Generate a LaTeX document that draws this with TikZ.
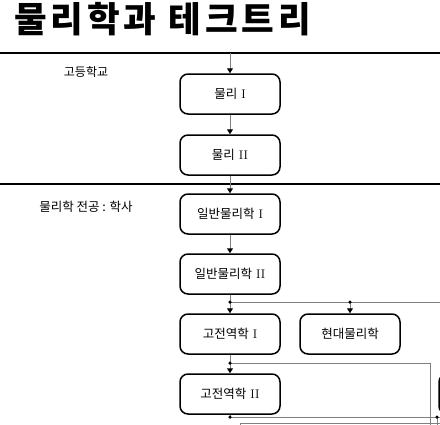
\documentclass[tikz,border=0pt]{standalone}
\usepackage{fontspec}
\newfontfamily\kr{Noto Sans CJK KR}
\usetikzlibrary{arrows.meta}
\tikzset{
  course/.style={draw, line width=1.5pt, rounded corners=8pt,
    minimum width=100pt, minimum height=40pt, inner sep=0pt,
    font=\fontsize{12.5}{14}\selectfont},
  lbl/.style={font=\kr\fontsize{12}{14}\selectfont, inner sep=0pt},
  wire/.style={draw=black!50, line width=1pt},
  link/.style={wire, -{Triangle[color=black, length=5pt, width=6pt]}},
  dot/.style={circle, fill=black, inner sep=0pt, minimum size=3.5pt},
  rule/.style={line width=2.5pt}
}
\begin{document}
\begin{tikzpicture}[x=1pt, y=-1pt]
          \useasboundingbox (0,0) rectangle (440,424);
          \node[anchor=base west, inner sep=0pt,
            font=\kr\bfseries\fontsize{35.5}{36}\selectfont\addfontfeature{LetterSpace=11}]
            (title) at (14,32) {물리학과 테크트리};
          \draw[rule] (0,53) to (440,53);
          \draw[rule] (0,184) to (440,184);
          \node[lbl] (school) at (86,72) {고등학교};
          \node[lbl, font=\kr\fontsize{12.5}{14}\selectfont] (major) at (86,207) {물리학 전공 : 학사};
          \node[course] (phys1) at (230,94) {{\kr 물리} I};
          \node[course] (phys2) at (230,155) {{\kr 물리} II};
          \node[course] (gen1) at (230,214) {{\kr 일반물리학} I};
          \node[course] (gen2) at (230,274) {{\kr 일반물리학} II};
          \node[course] (mech1) at (230,334) {{\kr 고전역학} I};
          \node[course] (modern) at (350,334) {\kr 현대물리학};
          \node[course] (mech2) at (230,394) {{\kr 고전역학} II};
          \node[course] (next) at (489,394) {};
          \coordinate (top) at (230,53);
          \coordinate (j1) at (230,302);
          \coordinate (j1m) at (350,302);
          \coordinate (j1r) at (440,302);
          \coordinate (j2) at (230,363);
          \coordinate (j2r) at (430,363);
          \coordinate (j2d) at (430,430);
          \coordinate (j3) at (230,417);
          \coordinate (j3m) at (437,417);
          \coordinate (j3r) at (440,417);
          \coordinate (j3d) at (437,432);
          \coordinate (k1) at (240,430);
          \coordinate (k2) at (240,423);
          \coordinate (k3) at (440,423);
          \draw[link] (top) to (phys1);
          \draw[link] (phys1) to (phys2);
          \draw[link] (phys2) to (gen1);
          \draw[link] (gen1) to (gen2);
          \draw[wire] (gen2) to (j1);
          \draw[wire] (j1) to (j1r);
          \draw[link] (j1) to (mech1);
          \draw[link] (j1m) to (modern);
          \draw[wire] (mech1) to (j2);
          \draw[link] (j2) to (mech2);
          \draw[wire] (j2) -- (j2r) -- (j2d);
          \draw[wire] (mech2) to (j3);
          \draw[wire] (j3) to (j3r);
          \draw[link] (j3m) to (j3d);
          \draw[wire] (k1) -- (k2) -- (k3);
          \node[dot] at (j1) {};
          \node[dot] at (j1m) {};
          \node[dot] at (j2) {};
          \node[dot] at (j3) {};
          \node[dot] at (j3m) {};
        \end{tikzpicture}
\end{document}
